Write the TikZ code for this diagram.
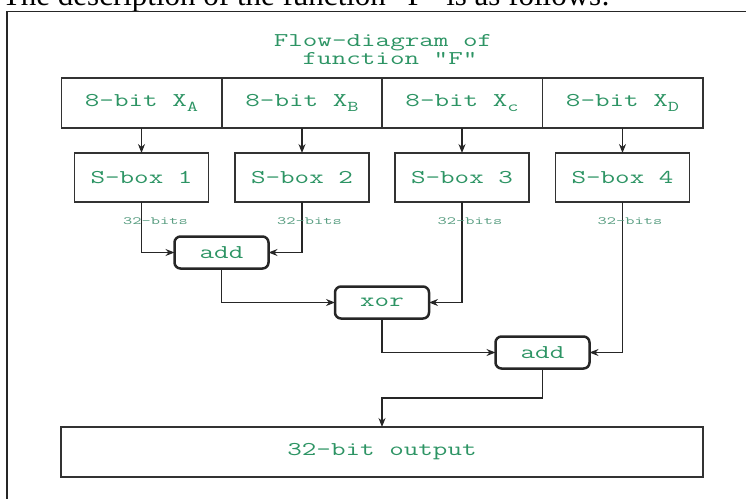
\documentclass[tikz,border=0pt]{standalone}
\usepackage{fontspec}
\usepackage{graphicx}
\setmainfont{Liberation Serif}
\newfontfamily\mono[FakeStretch=1.45]{Latin Modern Mono}
\newfontfamily\monolbl[FakeStretch=1.6]{Latin Modern Mono}
\usetikzlibrary{arrows.meta}
\definecolor{txtgreen}{RGB}{45,148,100}
\definecolor{lblgreen}{RGB}{90,158,130}
\definecolor{boxline}{RGB}{50,50,50}
\newcommand\subtx[1]{\raisebox{-5.5pt}{\fontsize{15}{15}\selectfont #1}}
\begin{document}
\begin{tikzpicture}[x=1pt,y=-1pt,
  every node/.style={inner sep=0pt, outer sep=0pt},
  boxtxt/.style={font=\mono\fontsize{19.5}{22}\selectfont, text=txtgreen},
  inbox/.style={boxtxt, draw=boxline, line width=1.5pt, minimum width=160.5pt, minimum height=50pt},
  sbox/.style={boxtxt, draw=boxline, line width=1.5pt, minimum width=134pt, minimum height=49pt},
  opbox/.style={boxtxt, draw=black!85, line width=2.5pt, rounded corners=6pt, minimum width=94pt, minimum height=32pt},
  outbox/.style={boxtxt, draw=boxline, line width=1.5pt, minimum width=642pt, minimum height=50pt},
  lbl/.style={font=\monolbl\fontsize{11}{12}\selectfont, text=lblgreen},
  conn/.style={draw=black!85, line width=1.2pt, -{Stealth[length=9pt,width=7pt]}},
  frameline/.style={draw=black!85, line width=1.5pt},
]
\useasboundingbox (0,0) rectangle (746,498);
\clip (0,0) rectangle (746,498);

% header sentence (cut off at the top, as in the reference)
\node[font=\fontsize{31}{31}\selectfont, anchor=base west] (hdr) at (2,5) {The description of the function "F" is as follows:};

% outer frame
\coordinate (fa) at (7,520);
\coordinate (fb) at (7,11.5);
\coordinate (fc) at (770,11.5);
\draw[frameline] (fa) -- (fb) -- (fc);

% title
\node[boxtxt, anchor=base] (t1) at (383,46) {Flow-diagram of};
\node[boxtxt, anchor=base] (t2) at (390,64) {function "F"};

% inputs
\node[inbox] (inA) at (141.5,103) {8-bit X\subtx{A}};
\node[inbox] (inB) at (302,103) {8-bit X\subtx{B}};
\node[inbox] (inC) at (462,103) {8-bit X\subtx{c}};
\node[inbox] (inD) at (622.5,103) {8-bit X\subtx{D}};

% S-boxes
\node[sbox] (s1) at (141.5,177.5) {S-box 1};
\node[sbox] (s2) at (302,177.5) {S-box 2};
\node[sbox] (s3) at (462,177.5) {S-box 3};
\node[sbox] (s4) at (622.5,177.5) {S-box 4};

% operations
\node[opbox] (add1) at (221.5,252.5) {add};
\node[opbox] (xor) at (382,302.5) {xor};
\node[opbox] (add2) at (542.5,352.5) {add};

% output
\node[outbox] (out) at (382,452) {32-bit output};

% connectors
\draw[conn] (inA) -- (s1);
\draw[conn] (inB) -- (s2);
\draw[conn] (inC) -- (s3);
\draw[conn] (inD) -- (s4);
\draw[conn] (s1.south) |- (add1.west);
\draw[conn] (s2.south) |- (add1.east);
\draw[conn] (add1.south) |- (xor.west);
\draw[conn] (s3.south) |- (xor.east);
\draw[conn] (xor.south) |- (add2.west);
\draw[conn] (s4.south) |- (add2.east);
\coordinate (bend) at (542.5,398);
\draw[conn] (add2.south) -- (bend) -| (out.north);

% bit-width labels
\node[lbl] (l1) at (155.5,221) {32-bits};
\node[lbl] (l2) at (309.5,221) {32-bits};
\node[lbl] (l3) at (470,221) {32-bits};
\node[lbl] (l4) at (630,221) {32-bits};
\end{tikzpicture}
\end{document}
